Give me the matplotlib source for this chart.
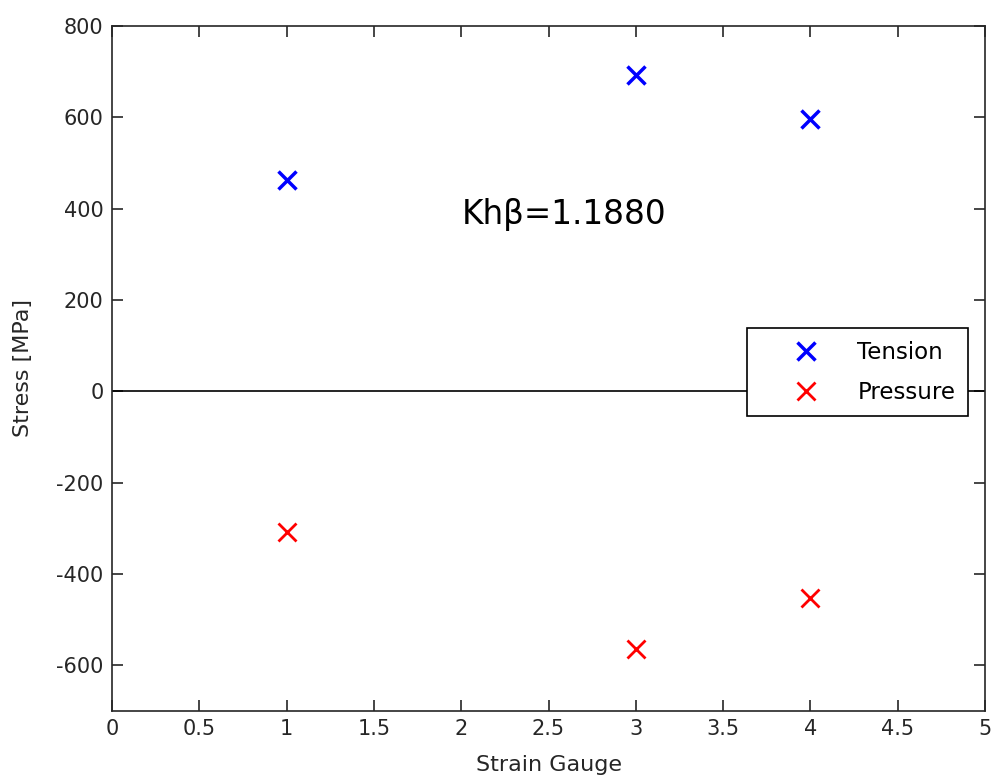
import matplotlib
matplotlib.use("Agg")
import matplotlib.pyplot as plt
from matplotlib.ticker import FuncFormatter

gauges = [1, 3, 4]
tension = [463, 692, 596]
pressure = [-308, -565, -453]
xticks = [0, 0.5, 1, 1.5, 2, 2.5, 3, 3.5, 4, 4.5, 5]
yticks = [-600, -400, -200, 0, 200, 400, 600, 800]

plt.rcParams['font.family'] = ['DejaVu Sans']
plt.rcParams['axes.unicode_minus'] = False
fig = plt.figure(figsize=(9.91, 7.83), dpi=100)
ax = fig.add_axes([0.113, 0.092, 0.881, 0.875])

ax.plot([0, 5], [0, 0], color='black', lw=1.2, zorder=2)
ax.plot(gauges, tension, linestyle='none', marker='x', color='blue', ms=13, mew=2.5, label='Tension', zorder=3)
ax.plot(gauges, pressure, linestyle='none', marker='x', color='red', ms=13, mew=2.0, label='Pressure', zorder=3)

ax.set_xlim(0, 5)
ax.set_ylim(-700, 800)
ax.set_xticks(xticks)
ax.xaxis.set_major_formatter(FuncFormatter(lambda v, p: f'{v:g}'))
ax.set_yticks(yticks)
ax.yaxis.set_major_formatter(FuncFormatter(lambda v, p: f'{int(v)}'))
ax.tick_params(direction='in', labelsize=15, colors='#262626', length=8, width=1.2, top=True, right=True,
               labelcolor='#262626', pad=6)
for s in ax.spines.values():
    s.set_color('#262626')
    s.set_linewidth(1.2)
ax.set_xlabel('Strain Gauge', fontsize=16, color='#262626')
ax.set_ylabel('Stress [MPa]', fontsize=16, color='#262626')
ax.xaxis.set_label_coords(0.5, -0.064)
ax.yaxis.set_label_coords(-0.090, 0.5)

ax.text(2.59, 388, 'Khβ=1.1880', fontsize=23.5, ha='center', va='center', color='black')

leg = ax.legend(loc='upper right', bbox_to_anchor=(0.9805, 0.559), borderaxespad=0, fontsize=16.5,
                frameon=True, fancybox=False, edgecolor='black', framealpha=1,
                handlelength=4.0, handletextpad=0.25, borderpad=0.55, labelspacing=0.75)
leg.get_frame().set_linewidth(1.2)
leg.set_zorder(5)

fig.savefig('out.png', dpi=100, facecolor='white')
